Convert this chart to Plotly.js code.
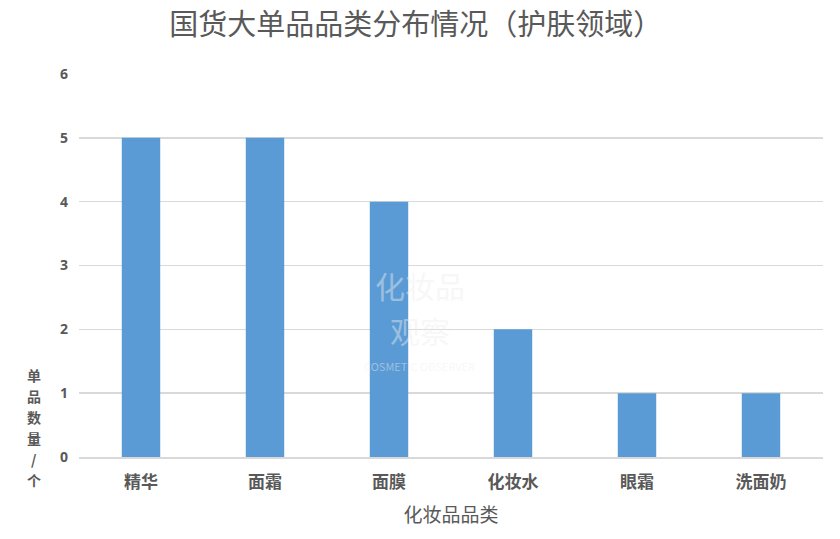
<!DOCTYPE html>
<html>
<head>
<meta charset="utf-8">
<script src="https://cdn.plot.ly/plotly-3.0.1.min.js"></script>
<style>html,body{margin:0;padding:0;background:#fff;}#chart{width:840px;height:539px;}</style>
</head>
<body>
<div id="chart"></div>
<script>
const categories = ["精华", "面霜", "面膜", "化妆水", "眼霜", "洗面奶"];
const counts = [5, 5, 4, 2, 1, 1];
const yTicks = [0, 1, 2, 3, 4, 5, 6];
const yTitleChars = ["单", "品", "数", "量", "/", "个"];
const watermarkLines = ["化妆品", "观察", "COSMETIC OBSERVER"];

const font = '"Noto Sans CJK SC", "Noto Sans", sans-serif';
const grey = '#595959';

const trace = {
  type: 'bar',
  x: categories,
  y: counts,
  marker: {color: '#5b9bd5'},
  hoverinfo: 'x+y'
};

const plotTop = 74, plotH = 383;
const toPaperY = py => (plotTop + plotH - py) / plotH;

// vertical stacked y-axis title, one character per annotation
const yTitleAnn = yTitleChars.map((ch, i) => ({
  xref: 'paper', yref: 'paper',
  x: -0.06, y: toPaperY(375 + i * 21),
  xanchor: 'center', yanchor: 'middle',
  text: ch, showarrow: false,
  font: {family: font, size: 14, color: grey, weight: 'bold'}
}));

// faint watermark
const wmY = [285, 330, 366];
const wmSize = [30, 30, 11];
const wmAnn = watermarkLines.map((t, i) => ({
  xref: 'paper', yref: 'paper',
  x: 0.458, y: toPaperY(wmY[i]),
  xanchor: 'center', yanchor: 'middle',
  text: t, showarrow: false,
  font: {family: font, size: wmSize[i], color: 'rgba(238,238,238,0.45)'}
}));

const layout = {
  width: 840,
  height: 539,
  margin: {l: 79, r: 17, t: 74, b: 82},
  paper_bgcolor: '#ffffff',
  plot_bgcolor: '#ffffff',
  bargap: 0.69,
  showlegend: false,
  title: {
    text: '国货大单品品类分布情况（护肤领域）',
    font: {family: font, size: 29, color: grey},
    x: 0.495, xanchor: 'center',
    y: 0.953, yanchor: 'middle'
  },
  xaxis: {
    type: 'category',
    tickfont: {family: font, size: 17, color: grey, weight: 'bold'},
    showgrid: false,
    showline: true,
    linecolor: '#d9d9d9',
    linewidth: 2,
    ticks: '',
    ticklabelstandoff: 9,
    title: {text: '化妆品品类', font: {family: font, size: 19, color: grey}, standoff: 16}
  },
  yaxis: {
    range: [0, 6],
    tickvals: yTicks,
    ticktext: yTicks.map(String),
    tickfont: {family: '"Open Sans", sans-serif', size: 14, color: grey, weight: 'bold'},
    showgrid: true,
    gridcolor: '#d9d9d9',
    gridwidth: 1.5,
    zeroline: false,
    showline: false,
    ticks: '',
    ticklabelstandoff: 10
  },
  annotations: yTitleAnn.concat(wmAnn)
};

Plotly.newPlot('chart', [trace], layout, {displayModeBar: false, staticPlot: true});
</script>
</body>
</html>
